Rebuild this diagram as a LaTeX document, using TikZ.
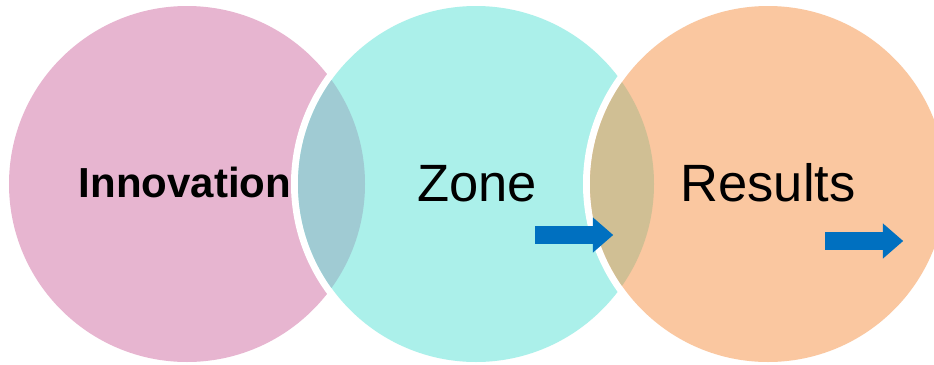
\documentclass[tikz,border=0pt]{standalone}
\usepackage{fontspec}
\setmainfont{Liberation Sans}
\usetikzlibrary{shapes.arrows}
\definecolor{cpink}{HTML}{E7B5D0}
\definecolor{ccyan}{HTML}{ABF0EA}
\definecolor{corange}{HTML}{FAC7A0}
\definecolor{clensa}{HTML}{A0CBD3}
\definecolor{clensb}{HTML}{D0BF94}
\definecolor{cblue}{HTML}{0070C0}
\tikzset{
  ring/.style={circle, minimum size=356pt, inner sep=0pt, outer sep=0pt},
  lbl/.style={anchor=base, inner sep=0pt, text=black},
  flow/.style={single arrow, fill=cblue, draw=none, minimum height=78pt,
    inner xsep=0pt, inner ysep=8.75pt, single arrow head extend=8.75pt, single arrow head indent=0pt,
    single arrow tip angle=82, outer sep=0pt}
}
\begin{document}
\begin{tikzpicture}[x=1pt,y=-1pt]
\useasboundingbox (0,0) rectangle (934,364);
\begin{scope}
\clip (0,0) rectangle (934,364);
% pink
\node[ring, fill=cpink] (inno) at (187,184) {};
% cyan
\node[ring, draw=white, line width=14pt] at (476,184) {};
\node[ring, fill=ccyan] (zone) at (476,184) {};
\begin{scope}
\clip (476,184) circle (178);
\fill[clensa] (187,184) circle (178);
\end{scope}
% orange
\node[ring, draw=white, line width=14pt] at (768,184) {};
\node[ring, fill=corange] (res) at (768,184) {};
\begin{scope}
\clip (768,184) circle (178);
\fill[clensb] (476,184) circle (178);
\end{scope}
\end{scope}
% labels
\node[lbl, font=\fontsize{42}{48}\selectfont\bfseries] (t1) at (185,197) {Innovation};
\node[lbl, font=\fontsize{52.5}{60}\selectfont] (t2) at (477,201) {Zone};
\node[lbl, font=\fontsize{52.5}{60}\selectfont] (t3) at (768,201) {Results};
% arrows
\node[flow] (a1) at (569,235) {};
\node[flow] (a2) at (859,241) {};
\end{tikzpicture}
\end{document}
